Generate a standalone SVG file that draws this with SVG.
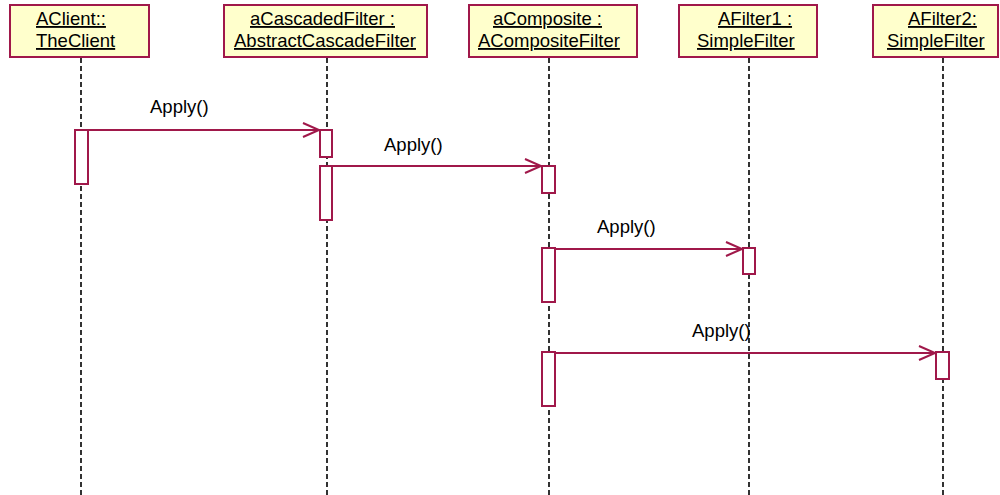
<svg xmlns="http://www.w3.org/2000/svg" width="1000" height="495" viewBox="0 0 1000 495">
<style>
.hdr{fill:#FFFFCC;stroke:#A0184A;stroke-width:2}
.ht{font-family:"Liberation Sans",Arial,sans-serif;font-size:18.5px;fill:#000;text-decoration:underline}
.life{stroke:#000;stroke-width:1.6;stroke-dasharray:5 3;fill:none}
.act{fill:#fff;stroke:#A0184A;stroke-width:2}
.msg{stroke:#A0184A;stroke-width:2;fill:none;marker-end:url(#open)}
.ml{font-family:"Liberation Sans",Arial,sans-serif;font-size:18.5px;fill:#000}
</style>
<defs>
<marker id="open" markerUnits="userSpaceOnUse" markerWidth="20" markerHeight="20" refX="0" refY="0" viewBox="-18 -10 20 20" orient="auto" overflow="visible">
<path d="M-16,-7 L0,0 L-16,7" fill="none" stroke="#A0184A" stroke-width="2"/>
</marker>
</defs>
<rect width="1000" height="495" fill="#fff"/>
<g id="lifelines">
<line class="life" x1="81" y1="58" x2="81" y2="495"/>
<line class="life" x1="327" y1="58" x2="327" y2="495"/>
<line class="life" x1="549" y1="58" x2="549" y2="495"/>
<line class="life" x1="749" y1="58" x2="749" y2="495"/>
<line class="life" x1="943" y1="58" x2="943" y2="495"/>
</g>
<g id="node-client">
<rect class="hdr" x="10" y="5" width="139" height="52"/>
<text class="ht" x="36" y="25">AClient::</text>
<text class="ht" x="36" y="47">TheClient</text>
<rect class="act" x="75" y="130" width="13" height="54"/>
</g>
<g id="node-cascaded">
<rect class="hdr" x="224" y="5" width="203" height="52"/>
<text class="ht" x="250" y="25">aCascadedFilter :</text>
<text class="ht" x="234" y="47">AbstractCascadeFilter</text>
<rect class="act" x="320" y="130" width="12" height="27"/>
<rect class="act" x="320" y="166" width="12" height="54"/>
</g>
<g id="node-composite">
<rect class="hdr" x="469" y="5" width="168" height="52"/>
<text class="ht" x="493" y="25">aComposite :</text>
<text class="ht" x="478" y="47">ACompositeFilter</text>
<rect class="act" x="542" y="166" width="13" height="27"/>
<rect class="act" x="542" y="248" width="13" height="54"/>
<rect class="act" x="542" y="352" width="13" height="54"/>
</g>
<g id="node-afilter1">
<rect class="hdr" x="679" y="5" width="138" height="52"/>
<text class="ht" x="718" y="25">AFilter1 :</text>
<text class="ht" x="697" y="47">SimpleFilter</text>
<rect class="act" x="743" y="248" width="12" height="26"/>
</g>
<g id="node-afilter2">
<rect class="hdr" x="873" y="5" width="125" height="52"/>
<text class="ht" x="908" y="25">AFilter2:</text>
<text class="ht" x="887" y="47">SimpleFilter</text>
<rect class="act" x="936" y="352" width="13" height="27"/>
</g>
<g id="connectors">
<line class="msg" x1="88" y1="130" x2="319" y2="130"/>
<text class="ml" x="150" y="113">Apply()</text>
<line class="msg" x1="332" y1="166" x2="541" y2="166"/>
<text class="ml" x="384" y="151">Apply()</text>
<line class="msg" x1="555" y1="249" x2="742" y2="249"/>
<text class="ml" x="597" y="233">Apply()</text>
<line class="msg" x1="555" y1="353" x2="935" y2="353"/>
<text class="ml" x="692" y="337">Apply()</text>
</g>
</svg>
